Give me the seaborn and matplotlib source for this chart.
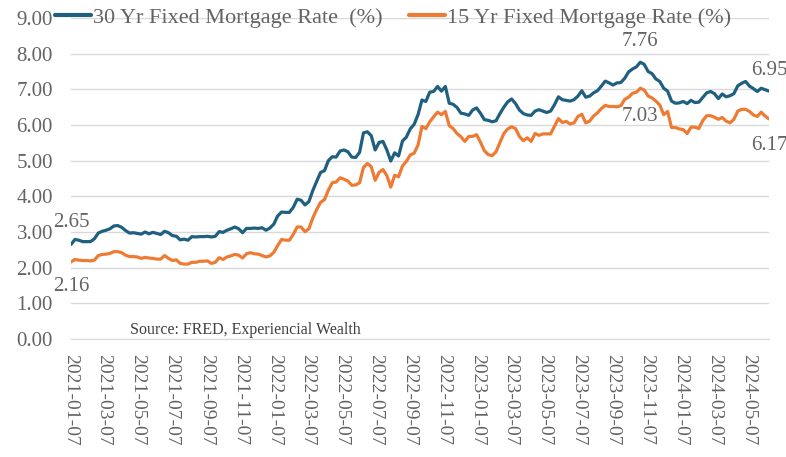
import numpy as np
import pandas as pd
import seaborn as sns
import matplotlib.pyplot as plt

# weekly FRED readings, 2021-01-07 .. 2024-06-13
start_date = '2021-01-07'
rate_30 = [
    2.65, 2.79, 2.77, 2.73, 2.73, 2.73, 2.81, 2.97, 3.02, 3.05, 3.09, 3.17, 3.18,
    3.13, 3.04, 2.97, 2.98, 2.96, 2.94, 3.00, 2.95, 2.99, 2.96, 2.93, 3.02, 2.98,
    2.90, 2.88, 2.78, 2.80, 2.77, 2.87, 2.86, 2.87, 2.87, 2.88, 2.86, 2.88, 3.01,
    2.99, 3.05, 3.09, 3.14, 3.09, 2.98, 3.10, 3.10, 3.11, 3.10, 3.12, 3.05, 3.11,
    3.22, 3.45, 3.56, 3.55, 3.55, 3.69, 3.92, 3.89, 3.76, 3.85, 4.16, 4.42, 4.67,
    4.72, 5.00, 5.11, 5.10, 5.27, 5.30, 5.25, 5.10, 5.09, 5.23, 5.78, 5.81, 5.70,
    5.30, 5.51, 5.54, 5.30, 4.99, 5.22, 5.13, 5.55, 5.66, 5.89, 6.02, 6.29, 6.70,
    6.66, 6.92, 6.94, 7.08, 6.95, 7.08, 6.61, 6.58, 6.49, 6.33, 6.31, 6.27, 6.42,
    6.48, 6.33, 6.15, 6.13, 6.09, 6.12, 6.32, 6.50, 6.65, 6.73, 6.60, 6.42, 6.32,
    6.28, 6.27, 6.39, 6.43, 6.39, 6.35, 6.39, 6.57, 6.79, 6.71, 6.69, 6.67, 6.71,
    6.81, 6.96, 6.78, 6.81, 6.90, 6.96, 7.09, 7.23, 7.18, 7.12, 7.18, 7.19, 7.31,
    7.49, 7.57, 7.63, 7.76, 7.70, 7.50, 7.44, 7.29, 7.22, 7.03, 6.95, 6.67, 6.61,
    6.62, 6.66, 6.60, 6.69, 6.63, 6.64, 6.77, 6.90, 6.94, 6.88, 6.74, 6.87, 6.79,
    6.82, 6.88, 7.10, 7.17, 7.22, 7.09, 7.02, 6.94, 7.03, 6.99, 6.95,
]
rate_15 = [
    2.16, 2.23, 2.21, 2.20, 2.20, 2.19, 2.21, 2.34, 2.37, 2.38, 2.40, 2.45, 2.45,
    2.42, 2.35, 2.31, 2.31, 2.30, 2.26, 2.29, 2.27, 2.26, 2.24, 2.24, 2.34, 2.26,
    2.20, 2.22, 2.12, 2.10, 2.10, 2.15, 2.15, 2.18, 2.18, 2.19, 2.12, 2.15, 2.28,
    2.23, 2.30, 2.33, 2.37, 2.35, 2.27, 2.39, 2.42, 2.39, 2.38, 2.34, 2.30, 2.33,
    2.43, 2.62, 2.79, 2.77, 2.77, 2.93, 3.14, 3.14, 3.01, 3.09, 3.39, 3.63, 3.83,
    3.91, 4.17, 4.38, 4.40, 4.52, 4.48, 4.43, 4.31, 4.32, 4.38, 4.81, 4.92, 4.83,
    4.45, 4.67, 4.75, 4.58, 4.26, 4.59, 4.55, 4.85, 4.98, 5.16, 5.21, 5.44, 5.96,
    5.90, 6.09, 6.23, 6.36, 6.29, 6.38, 5.98, 5.90, 5.76, 5.67, 5.54, 5.68, 5.68,
    5.73, 5.52, 5.28, 5.17, 5.14, 5.25, 5.51, 5.76, 5.89, 5.95, 5.90, 5.68, 5.56,
    5.64, 5.54, 5.76, 5.71, 5.75, 5.75, 5.75, 5.97, 6.18, 6.07, 6.10, 6.03, 6.06,
    6.24, 6.30, 6.06, 6.11, 6.25, 6.34, 6.46, 6.55, 6.52, 6.52, 6.51, 6.54, 6.72,
    6.78, 6.89, 6.92, 7.03, 6.98, 6.81, 6.76, 6.67, 6.56, 6.29, 6.38, 5.93, 5.93,
    5.89, 5.87, 5.76, 5.94, 5.94, 5.90, 6.12, 6.26, 6.26, 6.22, 6.16, 6.21, 6.11,
    6.06, 6.16, 6.39, 6.44, 6.44, 6.38, 6.28, 6.24, 6.36, 6.25, 6.17,
]
tick_labels = ['2021-01-07', '2021-03-07', '2021-05-07', '2021-07-07', '2021-09-07',
               '2021-11-07', '2022-01-07', '2022-03-07', '2022-05-07', '2022-07-07',
               '2022-09-07', '2022-11-07', '2023-01-07', '2023-03-07', '2023-05-07',
               '2023-07-07', '2023-09-07', '2023-11-07', '2024-01-07', '2024-03-07',
               '2024-05-07']
name_30 = '30 Yr Fixed Mortgage Rate  (%)'
name_15 = '15 Yr Fixed Mortgage Rate (%)'

dates = pd.date_range(start_date, periods=len(rate_30), freq='7D')
df = pd.DataFrame({'date': list(dates) * 2,
                   'rate': rate_30 + rate_15,
                   'series': [name_30] * len(rate_30) + [name_15] * len(rate_15)})

sns.set_style('white')
plt.rcParams['font.family'] = ['Liberation Serif', 'DejaVu Serif']
grey = '#636363'
blue = '#1f5f80'
orange = '#ee7b33'

fig = plt.figure(figsize=(7.86, 4.57), dpi=100)
ax = fig.add_axes([71 / 786, 1 - 339 / 457, (769 - 71) / 786, (339 - 18) / 457])

sns.lineplot(data=df, x='date', y='rate', hue='series', palette=[blue, orange],
             linewidth=2.3, ax=ax, legend=False)

ax.set_ylim(0, 9)
ax.set_yticks(np.arange(0, 10, 1))
ax.yaxis.set_major_formatter(plt.FuncFormatter(lambda v, p: f'{v:.2f}'))
ax.set_xlim(dates[0], dates[-1])
ticks = pd.to_datetime(tick_labels)
ax.set_xticks(ticks)
ax.set_xticklabels(tick_labels, rotation=-90, fontsize=14, color=grey)
ax.tick_params(axis='y', length=0, pad=13, labelsize=15, labelcolor=grey)
ax.tick_params(axis='x', length=5, width=0.8, color='#bfbfbf', pad=6, direction='out')
ax.set_xlabel('')
ax.set_ylabel('')
ax.grid(axis='y', color='#d9d9d9', linewidth=1)
ax.grid(axis='x', visible=False)
for s in ['left', 'right', 'top']:
    ax.spines[s].set_visible(False)
ax.spines['bottom'].set_color('#d9d9d9')

# data labels
def label(i, vals, txt, dy):
    ax.annotate(txt, (dates[i], vals[i]), xytext=(0, dy), textcoords='offset points',
                ha='center', va='center', fontsize=15, color=grey, annotation_clip=False)

label(0, rate_30, '2.65', 16)
label(0, rate_15, '2.16', -18)
i_peak = 146
label(i_peak, rate_30, '7.76', 15)
label(i_peak, rate_15, '7.03', -20)
label(len(rate_30) - 1, rate_30, '6.95', 15)
label(len(rate_15) - 1, rate_15, '6.17', -19)

ax.text(130 / 786, 1 - 330 / 457, 'Source: FRED, Experiencial Wealth',
        transform=fig.transFigure, fontsize=11.5, color='#404040', va='center')

handles = [plt.Line2D([], [], color=blue, lw=3), plt.Line2D([], [], color=orange, lw=3)]
fig.legend(handles, [name_30, name_15], loc='center', bbox_to_anchor=(0.5, 1 - 18 / 457),
           ncol=2, frameon=False, fontsize=16, labelcolor=grey, handlelength=1.6,
           handletextpad=0.1, columnspacing=1.2)

fig.savefig('out.png', dpi=100)
